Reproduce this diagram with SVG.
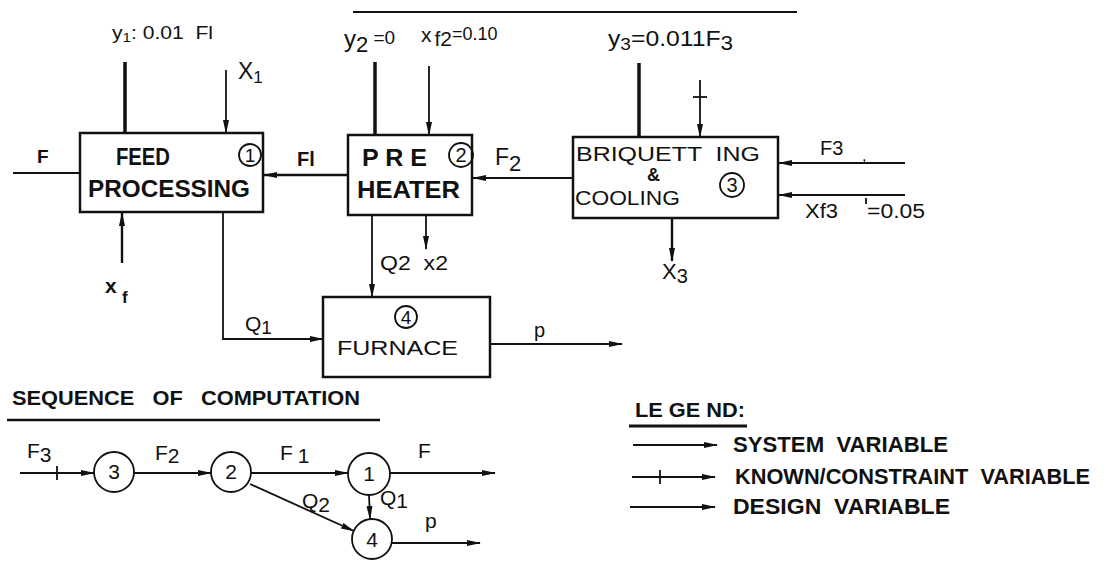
<svg xmlns="http://www.w3.org/2000/svg" width="1113" height="562" viewBox="0 0 1113 562">
<style>
text{font-family:"Liberation Sans",Arial,sans-serif;fill:#111;white-space:pre}
.b{font-weight:bold}
.box{fill:none;stroke:#111;stroke-width:2.5}
.cir{fill:none;stroke:#111;stroke-width:1.8}
.ln{fill:none;stroke:#111;stroke-width:1.8}
.thk{fill:none;stroke:#111;stroke-width:3.5}
.arr{fill:none;stroke:#111;stroke-width:1.8;marker-end:url(#ah)}
.arrT{fill:none;stroke:#111;stroke-width:2.4;marker-end:url(#ah)}
</style>
<defs>
<marker id="ah" viewBox="0 0 14 7" refX="13" refY="3.5" markerWidth="14" markerHeight="7" markerUnits="userSpaceOnUse" orient="auto">
<path d="M0,0.5 L14,3.5 L0,6.5 z" fill="#111"/>
</marker>
</defs>
<rect width="1113" height="562" fill="#fff"/>

<g id="node-feed">
<rect class="box" x="80" y="133" width="183" height="79"/>
<circle class="cir" cx="250" cy="155" r="11"/>
<text x="250" y="162" font-size="19" text-anchor="middle">1</text>
<text class="b" x="116" y="165" font-size="24" textLength="54" lengthAdjust="spacingAndGlyphs">FEED</text>
<text class="b" x="88" y="197" font-size="24" textLength="162" lengthAdjust="spacingAndGlyphs">PROCESSING</text>
</g>

<g id="node-preheater">
<rect class="box" x="348" y="135" width="124" height="80"/>
<circle class="cir" cx="461" cy="155" r="12"/>
<text x="461" y="162" font-size="20" text-anchor="middle">2</text>
<text class="b" x="362" y="166" font-size="24" textLength="65" lengthAdjust="spacingAndGlyphs">P R E</text>
<text class="b" x="357" y="198" font-size="24" textLength="103" lengthAdjust="spacingAndGlyphs">HEATER</text>
</g>

<g id="node-briquetting">
<rect class="box" x="573" y="137" width="205" height="81"/>
<circle class="cir" cx="732" cy="185" r="12"/>
<text x="732" y="192" font-size="20" text-anchor="middle">3</text>
<text x="576" y="161" font-size="21" textLength="184" lengthAdjust="spacingAndGlyphs">BRIQUETT  ING</text>
<text class="b" x="647" y="181" font-size="18">&amp;</text>
<text x="575" y="205" font-size="21" textLength="105" lengthAdjust="spacingAndGlyphs">COOLING</text>
</g>

<g id="node-furnace">
<rect class="box" x="323" y="297" width="167" height="80"/>
<circle class="cir" cx="406" cy="317" r="11"/>
<text x="406" y="324" font-size="19" text-anchor="middle">4</text>
<text x="337" y="355" font-size="21" textLength="121" lengthAdjust="spacingAndGlyphs">FURNACE</text>
</g>

<g id="connectors">
<line x1="353" y1="12" x2="797" y2="12" stroke="#111" stroke-width="2"/>
<line class="ln" x1="13" y1="173" x2="80" y2="173"/>
<line class="thk" x1="125" y1="62" x2="125" y2="133"/>
<line class="arr" x1="226" y1="70" x2="226" y2="133"/>
<line class="arrT" x1="122" y1="263" x2="122" y2="213"/>
<line class="arrT" x1="348" y1="175" x2="264" y2="175"/>
<line class="arr" x1="573" y1="178" x2="473" y2="178"/>
<line class="thk" x1="375" y1="62" x2="375" y2="135"/>
<line class="arr" x1="429" y1="66" x2="429" y2="135"/>
<line class="thk" x1="639" y1="63" x2="639" y2="137"/>
<line class="arr" x1="700" y1="80" x2="700" y2="137"/>
<line class="ln" x1="693" y1="97" x2="707" y2="97"/>
<line class="arr" x1="905" y1="163" x2="779" y2="163"/>
<line class="arr" x1="905" y1="195" x2="779" y2="195"/>
<line class="arrT" x1="672" y1="218" x2="672" y2="261"/>
<line class="arr" x1="372" y1="215" x2="372" y2="297"/>
<line class="arr" x1="426" y1="215" x2="426" y2="249"/>
<polyline class="arr" points="223,212 223,339 323,339"/>
<line class="arr" x1="490" y1="344" x2="622" y2="344"/>
</g>

<g id="labels">
<text x="112" y="39" font-size="18" textLength="101" lengthAdjust="spacingAndGlyphs">y<tspan font-size="13" dy="3">1</tspan><tspan dy="-3">: 0.01  Fl</tspan></text>
<text x="238" y="79" font-size="23">X<tspan font-size="17" dy="4">1</tspan></text>
<text class="b" x="37" y="163" font-size="19">F</text>
<text class="b" x="105" y="293" font-size="21">x</text>
<text class="b" x="122" y="303" font-size="17">f</text>
<text class="b" x="297" y="166" font-size="20">Fl</text>
<text x="495" y="165" font-size="23">F<tspan font-size="22" dy="6">2</tspan></text>
<text x="344" y="47" font-size="24">y<tspan font-size="22" dy="5">2</tspan><tspan font-size="19" dy="-8"> =0</tspan></text>
<text x="421" y="42" font-size="21">x<tspan font-size="21" dx="3" dy="4">f2</tspan><tspan font-size="18" dy="-6">=0.10</tspan></text>
<text x="608" y="46" font-size="22" textLength="125" lengthAdjust="spacingAndGlyphs">y<tspan font-size="17" dy="4">3</tspan><tspan dy="-4">=0.011F</tspan><tspan font-size="20" dy="4">3</tspan></text>
<text x="820" y="155" font-size="20">F3</text>
<text x="862" y="161" font-size="16">,</text>
<text x="805" y="218" font-size="20" textLength="33" lengthAdjust="spacingAndGlyphs">Xf3</text>
<line class="ln" x1="866" y1="198" x2="866" y2="204"/>
<text x="867" y="218" font-size="20" textLength="58" lengthAdjust="spacingAndGlyphs">=0.05</text>
<text x="662" y="279" font-size="22">X<tspan font-size="20" dy="4">3</tspan></text>
<text x="380" y="270" font-size="21" textLength="68" lengthAdjust="spacingAndGlyphs">Q2  x2</text>
<text x="245" y="331" font-size="21">Q<tspan font-size="19" dy="3">1</tspan></text>
<text x="534" y="337" font-size="20">p</text>
</g>

<g id="sequence">
<text class="b" x="12" y="405" font-size="20" textLength="348" lengthAdjust="spacingAndGlyphs">SEQUENCE   OF   COMPUTATION</text>
<line x1="7" y1="420" x2="380" y2="420" stroke="#111" stroke-width="2.5"/>
<g id="seq-node-3"><circle class="cir" cx="114" cy="472" r="20"/><text x="114" y="479" font-size="21" text-anchor="middle">3</text></g>
<g id="seq-node-2"><circle class="cir" cx="231" cy="472" r="20"/><text x="231" y="479" font-size="21" text-anchor="middle">2</text></g>
<g id="seq-node-1"><circle class="cir" cx="369" cy="474" r="21"/><text x="369" y="481" font-size="21" text-anchor="middle">1</text></g>
<g id="seq-node-4"><circle class="cir" cx="372" cy="539" r="20"/><text x="372" y="547" font-size="21" text-anchor="middle">4</text></g>
<g id="seq-connectors">
<line class="arr" x1="20" y1="473" x2="94" y2="473"/>
<line class="ln" x1="57" y1="466" x2="57" y2="480"/>
<line class="arr" x1="134" y1="473" x2="211" y2="473"/>
<line class="arr" x1="251" y1="473" x2="348" y2="473"/>
<line class="arr" x1="390" y1="473" x2="495" y2="473"/>
<line class="arr" x1="369" y1="495" x2="370" y2="519"/>
<line class="arr" x1="250" y1="484" x2="354" y2="531"/>
<line class="arr" x1="392" y1="543" x2="480" y2="543"/>
</g>
<text x="27" y="458" font-size="21">F<tspan dy="4">3</tspan></text>
<text x="155" y="460" font-size="21">F<tspan dy="3">2</tspan></text>
<text x="280" y="460" font-size="21">F<tspan dx="5" dy="3">1</tspan></text>
<text x="418" y="458" font-size="21">F</text>
<text x="302" y="508" font-size="21">Q<tspan dy="4">2</tspan></text>
<text x="380" y="505" font-size="21">Q<tspan dy="3">1</tspan></text>
<text x="425" y="528" font-size="21">p</text>
</g>

<g id="legend">
<text class="b" x="635" y="417" font-size="21" textLength="110" lengthAdjust="spacingAndGlyphs">LE GE ND:</text>
<line x1="629" y1="426" x2="747" y2="426" stroke="#111" stroke-width="3"/>
<line class="arr" x1="633" y1="445" x2="717" y2="445"/>
<text class="b" x="733" y="452" font-size="22" textLength="215" lengthAdjust="spacingAndGlyphs">SYSTEM  VARIABLE</text>
<line class="arr" x1="632" y1="477" x2="715" y2="477"/>
<line class="ln" x1="660" y1="470" x2="660" y2="484"/>
<text class="b" x="735" y="484" font-size="22" textLength="355" lengthAdjust="spacingAndGlyphs">KNOWN/CONSTRAINT  VARIABLE</text>
<line class="arr" x1="630" y1="507" x2="715" y2="507"/>
<text class="b" x="733" y="514" font-size="22" textLength="217" lengthAdjust="spacingAndGlyphs">DESIGN  VARIABLE</text>
</g>
</svg>
